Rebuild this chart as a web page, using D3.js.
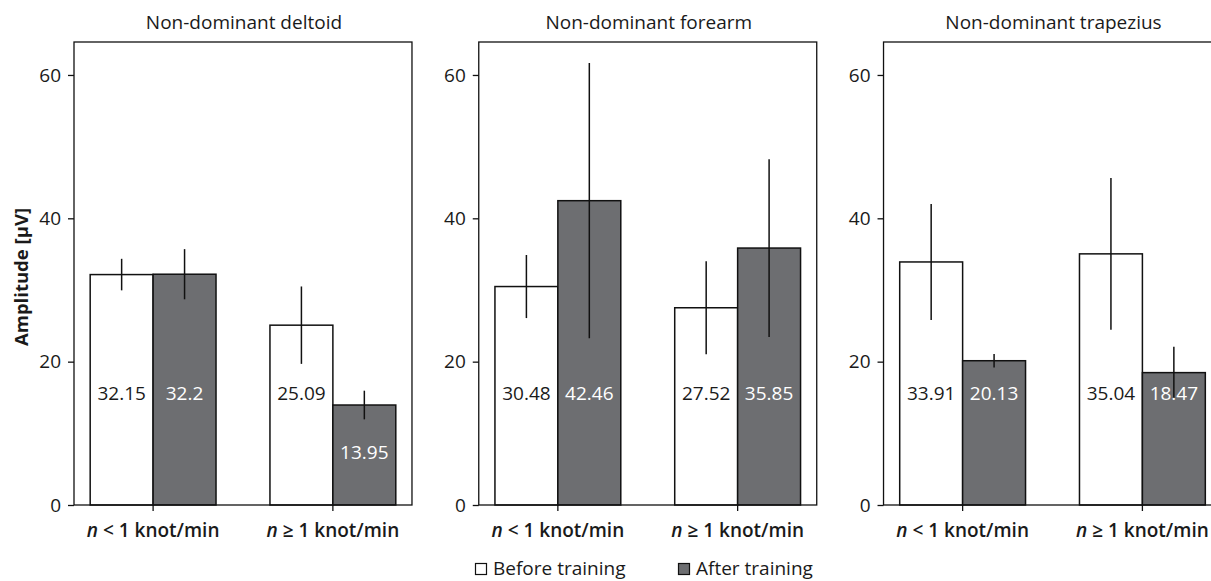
<!DOCTYPE html>
<html>
<head>
<meta charset="utf-8">
<script src="https://cdn.jsdelivr.net/npm/d3@7/dist/d3.min.js"></script>
<style>
  html, body { margin: 0; padding: 0; background: #fff; }
  svg { display: block; }
  text { font-family: "Open Sans", "Noto Sans", sans-serif; fill: #1a1a1a; }
</style>
</head>
<body>
<svg id="chart" width="1211" height="581"></svg>
<script>
// ---- data ----
const panels = ["Non-dominant deltoid", "Non-dominant forearm", "Non-dominant trapezius"];
const categories = ["lt", "ge"];
const categoryRelations = ["<", "≥"];
const series = ["Before training", "After training"];
const beforeValues = [[32.15, 25.09], [30.48, 27.52], [33.91, 35.04]];
const afterValues  = [[32.2, 13.95], [42.46, 35.85], [20.13, 18.47]];
const beforeLabels = [["32.15", "25.09"], ["30.48", "27.52"], ["33.91", "35.04"]];
const afterLabels  = [["32.2", "13.95"], ["42.46", "35.85"], ["20.13", "18.47"]];
const beforeErrors = [[2.2, 5.4], [4.4, 6.5], [8.1, 10.6]];
const afterErrors  = [[3.5, 2.0], [19.2, 12.4], [0.95, 3.6]];
const yTicks = [0, 20, 40, 60];
const yLabel = "Amplitude [µV]";

// ---- layout ----
const svg = d3.select("#chart");
const plotTop = 42, plotBottom = 505;
const colors = { "Before training": "#ffffff", "After training": "#6d6e71" };
const textColors = { "Before training": "#1a1a1a", "After training": "#ffffff" };
const fs = "19px";

const px = d3.scaleBand().domain(panels).range([74, 1221.5]).paddingInner(0.165).paddingOuter(0);
const pw = px.bandwidth();
const y = d3.scaleLinear().domain([0, 64.6]).range([plotBottom, plotTop]);
const x0 = d3.scaleBand().domain(categories).range([0, pw]).paddingInner(0.3).paddingOuter(0.09);
const x1 = d3.scaleBand().domain(series).range([0, x0.bandwidth()]).padding(0);

panels.forEach((pName, pi) => {
  const g = svg.append("g").attr("transform", `translate(${px(pName)},0)`);

  g.append("text").attr("x", pw / 2 + 1).attr("y", 29).attr("text-anchor", "middle")
    .style("font-size", fs).text(pName);

  const rows = [];
  categories.forEach((c, ci) => {
    rows.push({ c, s: series[0], v: beforeValues[pi][ci], e: beforeErrors[pi][ci], lab: beforeLabels[pi][ci] });
    rows.push({ c, s: series[1], v: afterValues[pi][ci], e: afterErrors[pi][ci], lab: afterLabels[pi][ci] });
  });

  g.selectAll("rect.bar").data(rows).join("rect").attr("class", "bar")
    .attr("x", d => x0(d.c) + x1(d.s))
    .attr("y", d => y(d.v))
    .attr("width", x1.bandwidth())
    .attr("height", d => y(0) - y(d.v))
    .attr("fill", d => colors[d.s])
    .attr("stroke", "#111").attr("stroke-width", 1.5);

  g.selectAll("line.err").data(rows).join("line").attr("class", "err")
    .attr("x1", d => x0(d.c) + x1(d.s) + x1.bandwidth() / 2)
    .attr("x2", d => x0(d.c) + x1(d.s) + x1.bandwidth() / 2)
    .attr("y1", d => y(d.v + d.e))
    .attr("y2", d => y(d.v - d.e))
    .attr("stroke", "#111").attr("stroke-width", 1.5);

  g.selectAll("text.val").data(rows).join("text").attr("class", "val")
    .attr("x", d => x0(d.c) + x1(d.s) + x1.bandwidth() / 2)
    .attr("y", d => y(d.v > 17 ? 15.6 : d.v / 2 + 0.4))
    .attr("dy", "0.35em")
    .attr("text-anchor", "middle")
    .style("font-size", fs)
    .style("fill", d => textColors[d.s])
    .text(d => d.lab);

  g.append("rect").attr("x", 0).attr("y", plotTop).attr("width", pw).attr("height", plotBottom - plotTop)
    .attr("fill", "none").attr("stroke", "#111").attr("stroke-width", 1.3);

  const ya = g.append("g").call(d3.axisLeft(y).tickValues(yTicks).tickSize(6).tickPadding(7).tickFormat(d3.format("d")));
  ya.select(".domain").remove();
  ya.selectAll("line").attr("stroke", "#111").attr("stroke-width", 1.3);
  ya.selectAll("text").style("font-size", fs).style("fill", "#1a1a1a").attr("font-family", null);

  const xa = g.append("g").attr("transform", `translate(0,${plotBottom})`)
    .call(d3.axisBottom(x0).tickSize(6).tickFormat(() => ""));
  xa.select(".domain").remove();
  xa.selectAll("line").attr("stroke", "#111").attr("stroke-width", 1.3);
  xa.selectAll(".tick").each(function(c, ci) {
    const t = d3.select(this).append("text").attr("y", 32).attr("text-anchor", "middle")
      .attr("font-family", null)
      .style("font-size", fs).style("font-weight", 600).style("fill", "#1a1a1a");
    t.append("tspan").style("font-style", "italic").text("n");
    t.append("tspan").text(` ${categoryRelations[ci]} 1 knot/min`);
  });
});

svg.append("text").attr("transform", `translate(28,277) rotate(-90)`)
  .attr("text-anchor", "middle").style("font-size", "18.5px").style("font-weight", 700)
  .text(yLabel);

const legendX = d3.scalePoint().domain(series).range([475, 678]);
const lg = svg.append("g");
series.forEach(s => {
  const gx = legendX(s);
  lg.append("rect").attr("x", gx + 0.5).attr("y", 563.5).attr("width", 11).attr("height", 11)
    .attr("fill", colors[s]).attr("stroke", "#111").attr("stroke-width", 1.2);
  lg.append("text").attr("x", gx + 18).attr("y", 575).style("font-size", fs).text(s);
});
</script>
</body>
</html>
